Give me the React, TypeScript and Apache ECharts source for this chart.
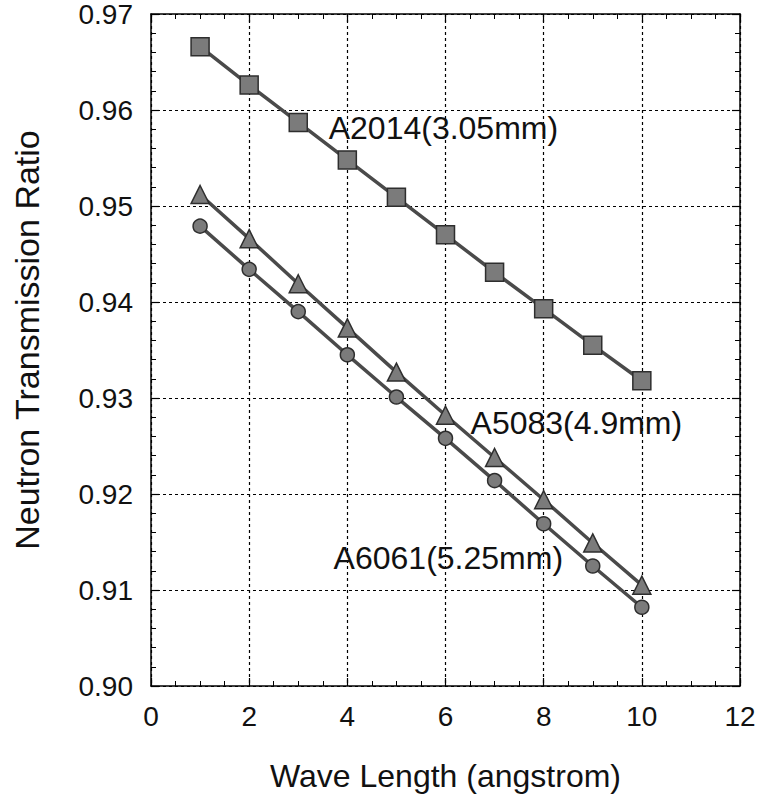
import React, { useEffect, useRef } from "react";
import * as echarts from "echarts";

const waveLengths = [1, 2, 3, 4, 5, 6, 7, 8, 9, 10];
const a2014 = [0.9666, 0.9626, 0.9587, 0.9548, 0.9509, 0.9470, 0.9431, 0.9393, 0.9355, 0.9318];
const a5083 = [0.9512, 0.9466, 0.9419, 0.9373, 0.9327, 0.9282, 0.9238, 0.9194, 0.9149, 0.9105];
const a6061 = [0.9479, 0.9434, 0.9390, 0.9345, 0.9301, 0.9258, 0.9214, 0.9169, 0.9125, 0.9082];
const labelNames = ["A2014(3.05mm)", "A5083(4.9mm)", "A6061(5.25mm)"];
const labelPositions: [number, number][] = [[3.61, 0.9581], [6.5, 0.9274], [3.71, 0.9133]];

const FONT = "Liberation Sans, Arial, Helvetica, sans-serif";

export default function App() {
  const ref = useRef<HTMLDivElement>(null);
  useEffect(() => {
    document.body.style.margin = "0";
    const chart = echarts.init(ref.current!, null, { renderer: "svg" });
    const pairs = (ys: number[]) => waveLengths.map((x, i) => [x, ys[i]]);
    const mk = (name: string, ys: number[], symbol: string, size: number, idx: number) => ({
      name,
      type: "line",
      data: pairs(ys),
      symbol,
      symbolSize: size,
      showAllSymbol: true,
      lineStyle: { color: "#4a4a4a", width: 3.5 },
      itemStyle: { color: "#7b7b7b", borderColor: "#2e2e2e", borderWidth: 1.5 },
      z: 3,
      markPoint: {
        symbol: "circle",
        symbolSize: 1,
        itemStyle: { color: "rgba(0,0,0,0)" },
        label: {
          show: true,
          position: "right",
          distance: 0,
          formatter: labelNames[idx],
          color: "#111",
          fontSize: 32,
          fontFamily: FONT,
        },
        data: [{ coord: labelPositions[idx] }],
      },
    });
    const tickCommon = { inside: true, length: 8, lineStyle: { color: "#000", width: 1.2 } };
    chart.setOption({
      animation: false,
      backgroundColor: "#fff",
      grid: { left: 151, right: 19, top: 14, bottom: 116 },
      xAxis: [
        {
          type: "value",
          min: 0,
          max: 12,
          interval: 2,
          name: "Wave Length (angstrom)",
          nameLocation: "middle",
          nameGap: 74,
          nameTextStyle: { fontSize: 32, fontFamily: FONT, color: "#111" },
          axisLine: { onZero: false, lineStyle: { color: "#000", width: 1.5 } },
          axisTick: tickCommon,
          minorTick: { show: true, splitNumber: 4, length: 5, lineStyle: { color: "#000", width: 1 } },
          axisLabel: { fontSize: 28, fontFamily: FONT, color: "#111", margin: 16 },
          splitLine: { show: true, lineStyle: { color: "#000", type: [3, 3], width: 1.2 } },
        },
        {
          type: "value",
          position: "top",
          min: 0,
          max: 12,
          interval: 2,
          axisLine: { show: true, onZero: false, lineStyle: { color: "#000", width: 1.5 } },
          axisTick: tickCommon,
          minorTick: { show: true, splitNumber: 4, length: 5, lineStyle: { color: "#000", width: 1 } },
          axisLabel: { show: false },
          splitLine: { show: false },
        },
      ],
      yAxis: [
        {
          type: "value",
          min: 0.9,
          max: 0.97,
          interval: 0.01,
          name: "Neutron Transmission Ratio",
          nameLocation: "middle",
          nameGap: 107,
          nameTextStyle: { fontSize: 34, fontFamily: FONT, color: "#111", padding: [0, 0, 0, 20] },
          axisLine: { show: true, onZero: false, lineStyle: { color: "#000", width: 1.5 } },
          axisTick: tickCommon,
          minorTick: { show: true, splitNumber: 5, length: 5, lineStyle: { color: "#000", width: 1 } },
          axisLabel: {
            fontSize: 28,
            fontFamily: FONT,
            color: "#111",
            margin: 18,
            formatter: (v: number) => v.toFixed(2),
          },
          splitLine: { show: true, lineStyle: { color: "#000", type: [3, 3], width: 1.2 } },
        },
        {
          type: "value",
          position: "right",
          min: 0.9,
          max: 0.97,
          interval: 0.01,
          axisLine: { show: true, onZero: false, lineStyle: { color: "#000", width: 1.5 } },
          axisTick: tickCommon,
          minorTick: { show: true, splitNumber: 5, length: 5, lineStyle: { color: "#000", width: 1 } },
          axisLabel: { show: false },
          splitLine: { show: false },
        },
      ],
      series: [
        mk("A2014", a2014, "rect", 18, 0),
        mk("A5083", a5083, "triangle", 18, 1),
        mk("A6061", a6061, "circle", 14, 2),
      ],
    });
    return () => chart.dispose();
  }, []);
  return <div ref={ref} style={{ width: 759, height: 802 }} />;
}
